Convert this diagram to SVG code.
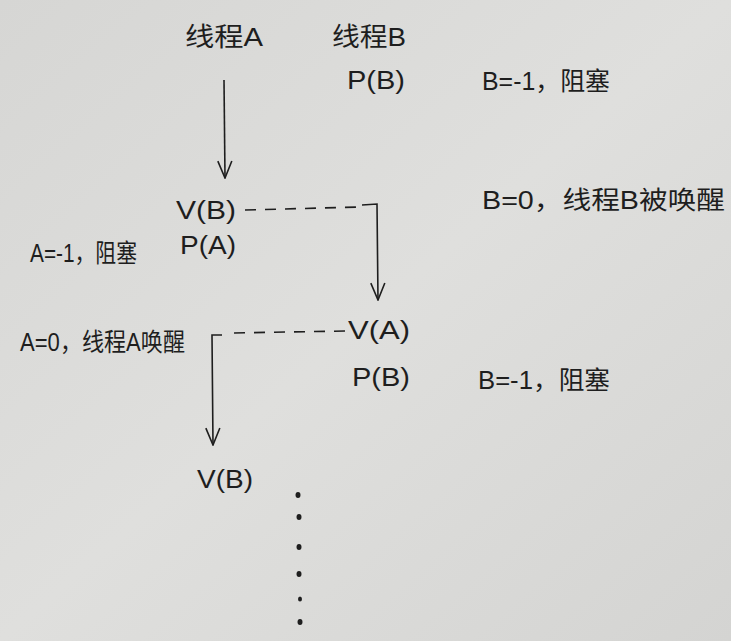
<svg xmlns="http://www.w3.org/2000/svg" width="731" height="641" viewBox="0 0 731 641">
<defs>
<marker id="ah" viewBox="0 0 20 16" refX="19" refY="8" markerWidth="20" markerHeight="16" markerUnits="userSpaceOnUse" orient="auto">
<path d="M2,1 L19,8 L2,15" fill="none" stroke="#1e1e1e" stroke-width="1.6"/>
</marker>
<linearGradient id="bg" x1="0" y1="0" x2="1" y2="1">
<stop offset="0" stop-color="#d6d6d4"/>
<stop offset="0.5" stop-color="#dfdfdd"/>
<stop offset="1" stop-color="#d4d4d2"/>
</linearGradient>
</defs>
<style>
.t{font-family:"Liberation Sans","Noto Sans CJK SC",sans-serif;fill:#1e1e1e;font-size:26px}
.s{font-size:25px}
.ln{fill:none;stroke:#1e1e1e;stroke-width:1.6}
.d{stroke-dasharray:11 9}
</style>
<rect width="731" height="641" fill="url(#bg)"/>
<g id="threadA"><text class="t" x="185" y="46" textLength="78" lengthAdjust="spacingAndGlyphs">线程A</text></g>
<g id="threadB"><text class="t" x="332" y="46" textLength="74" lengthAdjust="spacingAndGlyphs">线程B</text></g>
<g id="pB1"><text class="t" x="347" y="89" textLength="58" lengthAdjust="spacingAndGlyphs">P(B)</text></g>
<g id="note1"><text class="t s" x="482" y="90" textLength="128" lengthAdjust="spacingAndGlyphs">B=-1，阻塞</text></g>
<g id="vB1"><text class="t" x="176" y="219" textLength="60" lengthAdjust="spacingAndGlyphs">V(B)</text></g>
<g id="pA1"><text class="t" x="180" y="254" textLength="56" lengthAdjust="spacingAndGlyphs">P(A)</text></g>
<g id="note2"><text class="t s" x="30" y="262" textLength="107" lengthAdjust="spacingAndGlyphs">A=-1，阻塞</text></g>
<g id="note3"><text class="t s" x="482" y="209" textLength="243" lengthAdjust="spacingAndGlyphs">B=0，线程B被唤醒</text></g>
<g id="vA1"><text class="t" x="348" y="339" textLength="62" lengthAdjust="spacingAndGlyphs">V(A)</text></g>
<g id="note4"><text class="t s" x="20" y="351" textLength="165" lengthAdjust="spacingAndGlyphs">A=0，线程A唤醒</text></g>
<g id="pB2"><text class="t" x="352" y="386" textLength="58" lengthAdjust="spacingAndGlyphs">P(B)</text></g>
<g id="note5"><text class="t s" x="478" y="389" textLength="132" lengthAdjust="spacingAndGlyphs">B=-1，阻塞</text></g>
<g id="vB2"><text class="t" x="197" y="488" textLength="56" lengthAdjust="spacingAndGlyphs">V(B)</text></g>
<g id="connectors">
<path class="ln" d="M224,80 L225,178" marker-end="url(#ah)"/>
<path class="ln d" d="M245,210 L360,207"/>
<path class="ln" d="M362,205 L377,204 L378,300" marker-end="url(#ah)"/>
<path class="ln d" d="M345,331 L232,333"/>
<path class="ln" d="M222,335 L212,335 L213,445" marker-end="url(#ah)"/>
</g>
<g id="dots" fill="#1e1e1e">
<ellipse cx="298" cy="495" rx="2.5" ry="3"/>
<ellipse cx="299" cy="517" rx="2.5" ry="3"/>
<ellipse cx="299" cy="547" rx="2.5" ry="3"/>
<ellipse cx="299" cy="574" rx="2.5" ry="3"/>
<ellipse cx="300" cy="599" rx="2" ry="2.5"/>
<ellipse cx="300" cy="622" rx="2.5" ry="3"/>
</g>
</svg>
